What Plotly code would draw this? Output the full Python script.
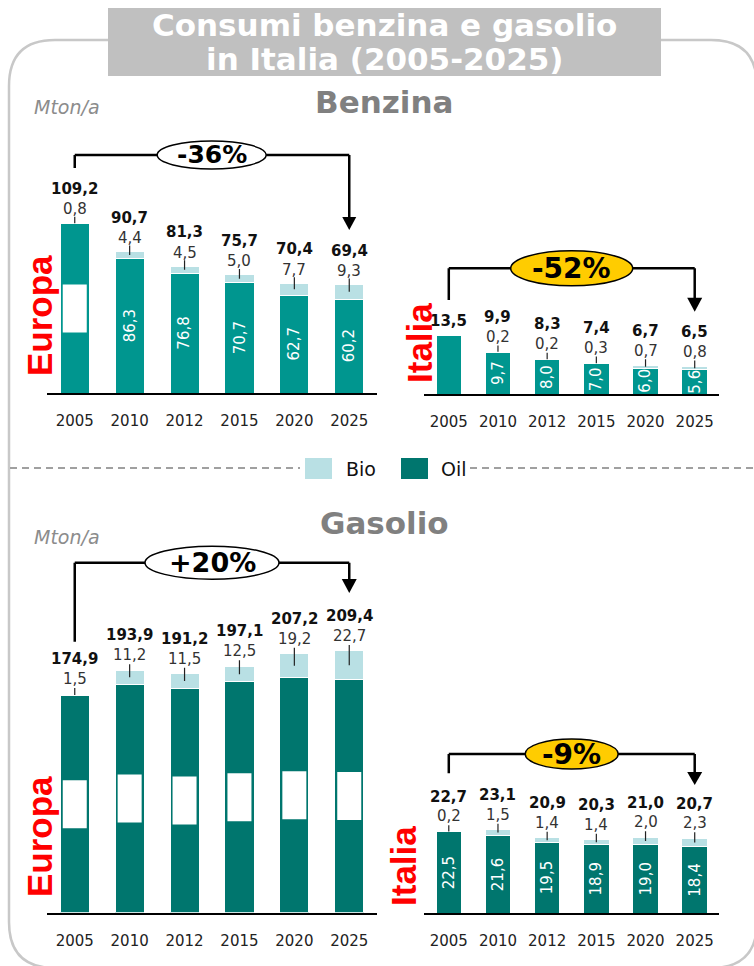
import plotly.graph_objects as go

# ---------------- data ----------------
years = ["2005", "2010", "2012", "2015", "2020", "2025"]

benz_eu_total = [109.2, 90.7, 81.3, 75.7, 70.4, 69.4]
benz_eu_bio = [0.8, 4.4, 4.5, 5.0, 7.7, 9.3]
benz_eu_oil = [108.4, 86.3, 76.8, 70.7, 62.7, 60.2]
benz_eu_oil_label = ["box", "text", "text", "text", "text", "text"]

benz_it_total = [13.5, 9.9, 8.3, 7.4, 6.7, 6.5]
benz_it_bio = [0.0, 0.2, 0.2, 0.3, 0.7, 0.8]
benz_it_oil = [13.5, 9.7, 8.0, 7.0, 6.0, 5.6]
benz_it_oil_label = ["none", "text", "text", "text", "text", "text"]

gas_eu_total = [174.9, 193.9, 191.2, 197.1, 207.2, 209.4]
gas_eu_bio = [1.5, 11.2, 11.5, 12.5, 19.2, 22.7]
gas_eu_oil = [173.4, 182.7, 179.7, 184.6, 188.0, 186.7]
gas_eu_oil_label = ["box", "box", "box", "box", "box", "box"]

gas_it_total = [22.7, 23.1, 20.9, 20.3, 21.0, 20.7]
gas_it_bio = [0.2, 1.5, 1.4, 1.4, 2.0, 2.3]
gas_it_oil = [22.5, 21.6, 19.5, 18.9, 19.0, 18.4]
gas_it_oil_label = ["text", "text", "text", "text", "text", "text"]

changes = ["-36%", "-52%", "+20%", "-9%"]
legend_names = ["Bio", "Oil"]

# ---------------- style ----------------
W, H = 754, 966
BENZ = "#00968F"
GAS = "#00766E"
BIO = "#B9E0E4"
RED = "#FF0000"
GREY_T = "#808080"
NUM = "DejaVu Sans"


def px(x):
    return x / W


def py(y):
    return 1 - y / H


def fmt(v):
    return f"{v:.1f}".replace(".", ",")


def paper_text(x, y, text, font, xanchor="center", **kw):
    d = dict(x=px(x), y=py(y), xref="paper", yref="paper", text=text, showarrow=False,
             xanchor=xanchor, yanchor="middle", font=font)
    d.update(kw)
    return d


panels = [
    dict(total=benz_eu_total, bio=benz_eu_bio, oil=benz_eu_oil, lab=benz_eu_oil_label,
         color=BENZ, x0=47.3, x1=376.7, base=393, top=140, scale=1.56, width=0.53,
         region="Europa", rxy=(39, 316), bio_shift=13.5, tot_shift=34,
         br_y=155, br_left=168, br_tip=230, tri=(14, 13),
         ell=(211.7, 155, 109, 28), efill="white", efs=25, change=changes[0]),
    dict(total=benz_it_total, bio=benz_it_bio, oil=benz_it_oil, lab=benz_it_oil_label,
         color=BENZ, x0=424.2, x1=719.3, base=394, top=290, scale=4.3, width=0.52,
         region="Italia", rxy=(419, 343), bio_shift=14.5, tot_shift=34.5,
         br_y=268.3, br_left=300, br_tip=311.7, tri=(15, 14),
         ell=(571.7, 268.3, 122, 35), efill="#FFCC00", efs=28, change=changes[1]),
    dict(total=gas_eu_total, bio=gas_eu_bio, oil=gas_eu_oil, lab=gas_eu_oil_label,
         color=GAS, x0=47.3, x1=376.7, base=912.7, top=590, scale=1.25, width=0.53,
         region="Europa", rxy=(39, 837), bio_shift=15, tot_shift=35,
         br_y=562.7, br_left=641.7, br_tip=593, tri=(15, 14),
         ell=(212, 562.7, 134, 33), efill="white", efs=27, change=changes[2]),
    dict(total=gas_it_total, bio=gas_it_bio, oil=gas_it_oil, lab=gas_it_oil_label,
         color=GAS, x0=424.2, x1=719.3, base=913.3, top=780, scale=3.62, width=0.52,
         region="Italia", rxy=(403, 866), bio_shift=15, tot_shift=34.5,
         br_y=754, br_left=773.3, br_tip=785, tri=(15, 13),
         ell=(571.7, 754, 93, 30), efill="#FFCC00", efs=28, change=changes[3]),
]

fig = go.Figure()
shapes = []
annotations = []

# ---- frame ----
fx0, fy0, fx1, fy1, r = 9, 40, 757, 968, 46
frame_path = (f"M {fx0+r},{-fy0} L {fx1-r},{-fy0} Q {fx1},{-fy0} {fx1},{-(fy0+r)} "
              f"L {fx1},{-(fy1-r)} Q {fx1},{-fy1} {fx1-r},{-fy1} "
              f"L {fx0+r},{-fy1} Q {fx0},{-fy1} {fx0},{-(fy1-r)} "
              f"L {fx0},{-(fy0+r)} Q {fx0},{-fy0} {fx0+r},{-fy0} Z")
shapes.append(dict(type="path", xref="paper", yref="paper", xsizemode="pixel", ysizemode="pixel",
                   xanchor=0, yanchor=1, path=frame_path,
                   line=dict(color="#C8C8C8", width=2.5), fillcolor="rgba(0,0,0,0)", layer="below"))

# ---- title box ----
shapes.append(dict(type="rect", xref="paper", yref="paper", x0=px(108), x1=px(661), y0=py(76), y1=py(8),
                   fillcolor="#C0C0C0", line=dict(width=0), layer="below"))
title_font = dict(family=NUM, size=31, color="white", weight="bold")
annotations.append(paper_text(384.5, 25, "Consumi benzina e gasolio", title_font))
annotations.append(paper_text(384.5, 59, "in Italia (2005-2025)", title_font))

# section titles
for txt, yy in [("Benzina", 102), ("Gasolio", 523)]:
    annotations.append(paper_text(384, yy, txt, dict(family=NUM, size=31, color=GREY_T, weight="bold")))
for yy in [107, 537]:
    annotations.append(paper_text(32, yy, "<i>Mton/a</i>", dict(family=NUM, size=19, color="#8C8C8C"),
                                  xanchor="left"))

# ---- legend / divider ----
shapes.append(dict(type="line", xref="paper", yref="paper", x0=px(10), x1=px(300), y0=py(468), y1=py(468),
                   line=dict(color="#A0A0A0", width=2, dash="7px,5px")))
shapes.append(dict(type="line", xref="paper", yref="paper", x0=px(470), x1=px(760), y0=py(468), y1=py(468),
                   line=dict(color="#A0A0A0", width=2, dash="7px,5px")))
for name, col, sx, tx in [(legend_names[0], BIO, 305, 344), (legend_names[1], GAS, 401, 439)]:
    shapes.append(dict(type="rect", xref="paper", yref="paper", x0=px(sx), x1=px(sx + 27), y0=py(479), y1=py(458),
                       fillcolor=col, line=dict(width=0)))
    annotations.append(paper_text(tx, 469, name, dict(family=NUM, size=19, color="#111"), xanchor="left"))

layout_axes = {}
for k, p in enumerate(panels):
    sfx = "" if k == 0 else str(k + 1)
    xa, ya = "x" + sfx, "y" + sfx
    fig.add_trace(go.Bar(x=years, y=p["oil"], marker=dict(color=p["color"], line=dict(color="white", width=1)),
                         width=p["width"], xaxis=xa, yaxis=ya, showlegend=False, hoverinfo="skip"))
    fig.add_trace(go.Bar(x=years, y=p["bio"], marker=dict(color=BIO, line=dict(color="white", width=1)),
                         width=p["width"], xaxis=xa, yaxis=ya, showlegend=False, hoverinfo="skip"))
    layout_axes["xaxis" + sfx] = dict(domain=[px(p["x0"]), px(p["x1"])], anchor=ya, type="category",
                                      categoryorder="array", categoryarray=years, range=[-0.5, 5.5],
                                      showline=True, linecolor="black", linewidth=2, ticks="",
                                      showgrid=False, zeroline=False, ticklabelstandoff=13,
                                      tickfont=dict(family=NUM, size=15, color="#222"))
    layout_axes["yaxis" + sfx] = dict(domain=[py(p["base"]), py(p["top"])], anchor=xa,
                                      range=[0, (p["base"] - p["top"]) / p["scale"]],
                                      showgrid=False, zeroline=False, showline=False,
                                      showticklabels=False, ticks="")

    for i, yr in enumerate(years):
        top = p["oil"][i] + p["bio"][i]
        has_bio = p["bio"][i] > 0
        tshift = p["tot_shift"] if has_bio else p["bio_shift"]
        annotations.append(dict(x=i, y=top, xref=xa, yref=ya, text=fmt(p["total"][i]), showarrow=False,
                                xanchor="center", yanchor="middle", yshift=tshift,
                                font=dict(family=NUM, size=15, color="#111", weight="bold")))
        if has_bio:
            annotations.append(dict(x=i, y=top, xref=xa, yref=ya, text=fmt(p["bio"][i]), showarrow=False,
                                    xanchor="center", yanchor="middle", yshift=p["bio_shift"],
                                    font=dict(family=NUM, size=15, color="#333")))
            shapes.append(dict(type="line", xref=xa, yref=ya, x0=i, x1=i, ysizemode="pixel", yanchor=top,
                               y0=-p["bio"][i] * p["scale"] / 2, y1=6, line=dict(color="#222", width=1.2)))
        mode = p["lab"][i]
        if mode == "text":
            annotations.append(dict(x=i, y=p["oil"][i] / 2, xref=xa, yref=ya, text=fmt(p["oil"][i]),
                                    showarrow=False, textangle=-90, xanchor="center", yanchor="middle",
                                    font=dict(family=NUM, size=15, color="white")))
        elif mode == "box":
            shapes.append(dict(type="rect", xref=xa, yref=ya, xsizemode="pixel", ysizemode="pixel",
                               xanchor=i, yanchor=p["oil"][i] / 2, x0=-12, x1=12, y0=-24, y1=24,
                               fillcolor="white", line=dict(width=0)))

    # region label
    annotations.append(paper_text(p["rxy"][0], p["rxy"][1], p["region"],
                                  dict(family="Liberation Sans, Arial", size=35, color=RED, weight="bold"),
                                  textangle=-90))

    # bracket
    i0, i1 = 0, len(years) - 1
    lw = dict(color="black", width=2.5)
    tw, th = p["tri"]
    shapes.append(dict(type="line", xref=xa, yref="paper", x0=i0, x1=i1, y0=py(p["br_y"]), y1=py(p["br_y"]), line=lw))
    shapes.append(dict(type="line", xref=xa, yref="paper", x0=i0, x1=i0, y0=py(p["br_y"]), y1=py(p["br_left"]), line=lw))
    shapes.append(dict(type="line", xref=xa, yref="paper", x0=i1, x1=i1, y0=py(p["br_y"]), y1=py(p["br_tip"] - th + 1), line=lw))
    shapes.append(dict(type="path", xref=xa, yref="paper", xsizemode="pixel", ysizemode="pixel",
                       xanchor=i1, yanchor=py(p["br_tip"]),
                       path=f"M {-tw/2},{th} L {tw/2},{th} L 0,0 Z", fillcolor="black", line=dict(width=0)))
    ex, ey, ew, eh = p["ell"]
    shapes.append(dict(type="circle", xref="paper", yref="paper", x0=px(ex - ew / 2), x1=px(ex + ew / 2),
                       y0=py(ey + eh / 2), y1=py(ey - eh / 2), fillcolor=p["efill"],
                       line=dict(color="black", width=1.5)))
    annotations.append(paper_text(ex, ey, p["change"],
                                  dict(family=NUM, size=p["efs"], color="black", weight="bold")))

fig.update_layout(width=W, height=H, autosize=False, margin=dict(l=0, r=0, t=0, b=0),
                  paper_bgcolor="white", plot_bgcolor="white", barmode="stack",
                  shapes=shapes, annotations=annotations, showlegend=False, **layout_axes)

fig.write_html("out.html")
